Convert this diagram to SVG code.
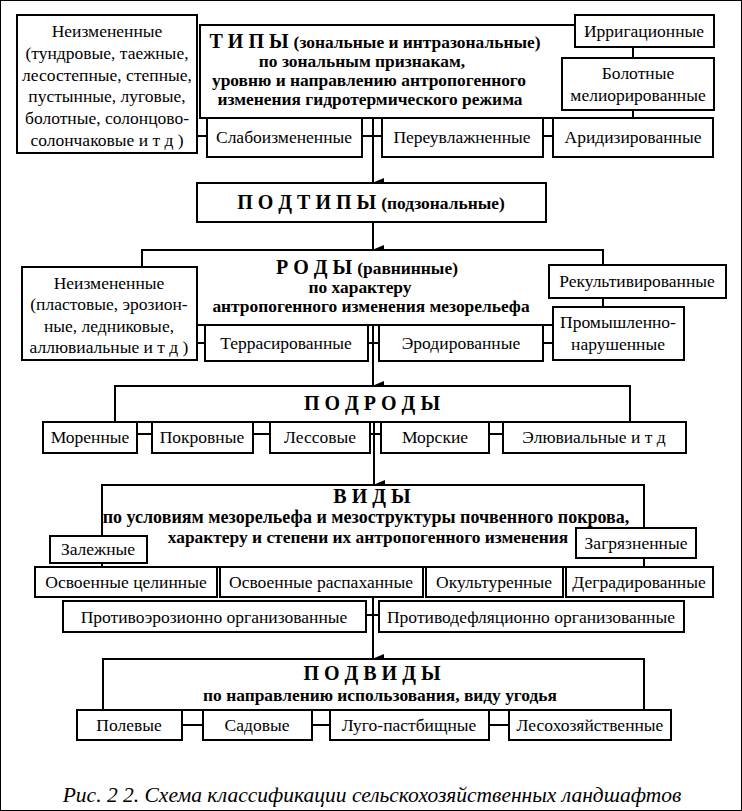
<svg xmlns="http://www.w3.org/2000/svg" width="742" height="811" viewBox="0 0 742 811">
<defs>
<marker id="arr" markerUnits="userSpaceOnUse" markerWidth="10" markerHeight="12" refX="5" refY="11" orient="auto-start-reverse" viewBox="0 0 10 12">
<path d="M0,0 L10,0 L5,12 Z" fill="#000"/>
</marker>
<style>
rect{fill:#fff;stroke:#000;stroke-width:2}
.frame{fill:#fff;stroke:#000;stroke-width:2}
text{font-family:"Liberation Serif","Times New Roman",serif;font-size:17.5px;text-anchor:middle;fill:#000}
.h{font-weight:bold;font-size:17.4px}
.hb{font-size:20px;font-weight:bold}
.cap{font-style:italic;font-size:21.5px}
.c line{stroke:#000;stroke-width:2}
.c .a{marker-end:url(#arr)}
</style>
</defs>
<rect width="742" height="811" fill="#fff" stroke="none"/>

<g id="types">
<rect class="frame" x="200" y="25" width="433" height="93"/>
<text x="375" y="48" class="h"><tspan class="hb">Т И П Ы </tspan>(зональные и интразональные)</text>
<text x="362" y="67" class="h">по зональным признакам,</text>
<text x="369" y="86" class="h">уровню и направлению антропогенного</text>
<text x="370" y="105" class="h">изменения гидротермического режима</text>
</g>
<g id="connectors" class="c">
<line x1="197" y1="136" x2="207" y2="136"/>
<line x1="362" y1="136" x2="382" y2="136"/>
<line x1="543" y1="136" x2="553" y2="136"/>
<line x1="197" y1="343" x2="205" y2="343"/>
<line x1="368" y1="343" x2="379" y2="343"/>
<line x1="543" y1="343" x2="553" y2="343"/>
<line x1="137" y1="434" x2="152" y2="434"/>
<line x1="253" y1="434" x2="270" y2="434"/>
<line x1="370" y1="434" x2="381" y2="434"/>
<line x1="489" y1="434" x2="503" y2="434"/>
<line x1="366" y1="615" x2="379" y2="615"/>
<line x1="182" y1="725" x2="203" y2="725"/>
<line x1="312" y1="725" x2="330" y2="725"/>
<line x1="489" y1="725" x2="509" y2="725"/>
<line class="a" x1="373" y1="118" x2="373" y2="183"/>
<line class="a" x1="373" y1="222" x2="373" y2="250"/>
<line class="a" x1="373" y1="325" x2="373" y2="386"/>
<line class="a" x1="374" y1="422" x2="374" y2="485"/>
<line class="a" x1="373" y1="567" x2="373" y2="659"/>
</g>
<g id="unchanged1">
<rect x="17" y="15" width="180" height="138"/>
<text x="107" y="37">Неизмененные</text>
<text x="107" y="59">(тундровые, таежные,</text>
<text x="107" y="81">лесостепные, степные,</text>
<text x="107" y="102">пустынные, луговые,</text>
<text x="107" y="124">болотные, солонцово-</text>
<text x="107" y="146">солончаковые и т д )</text>
</g>
<g id="irrig"><rect x="575" y="15" width="139" height="32"/><text x="644" y="37">Ирригационные</text></g>
<g id="bolot"><rect x="562" y="58" width="152" height="52"/><text x="638" y="79">Болотные</text><text x="638" y="101">мелиорированные</text></g>
<g id="slabo"><rect x="207" y="118" width="155" height="39"/><text x="284" y="143">Слабоизмененные</text></g>
<g id="pereuvl"><rect x="382" y="118" width="161" height="39"/><text x="462" y="143">Переувлажненные</text></g>
<g id="arid"><rect x="553" y="118" width="160" height="39"/><text x="633" y="143">Аридизированные</text></g>

<g id="subtypes"><rect x="197" y="183" width="349" height="39"/><text x="371" y="209" class="h"><tspan class="hb">П О Д Т И П Ы </tspan> (подзональные)</text></g>

<g id="rody">
<rect class="frame" x="142" y="250" width="461" height="75"/>
<text x="367" y="274" class="h"><tspan class="hb">Р О Д Ы </tspan>(равнинные)</text>
<text x="360" y="293" class="h">по характеру</text>
<text x="371" y="312" class="h">антропогенного изменения мезорельефа</text>
</g>
<g id="unchanged2">
<rect x="22" y="267" width="175" height="93"/>
<text x="109" y="289">Неизмененные</text>
<text x="109" y="310">(пластовые, эрозион-</text>
<text x="109" y="332">ные, ледниковые,</text>
<text x="109" y="353">аллювиальные и т д )</text>
</g>
<g id="rekult"><rect x="549" y="265" width="177" height="33"/><text x="637" y="287">Рекультивированные</text></g>
<g id="prom"><rect x="553" y="307" width="131" height="53"/><text x="618" y="328">Промышленно-</text><text x="618" y="350">нарушенные</text></g>
<g id="terras"><rect x="205" y="325" width="163" height="36"/><text x="286" y="349">Террасированные</text></g>
<g id="erod"><rect x="379" y="325" width="164" height="36"/><text x="461" y="349">Эродированные</text></g>

<g id="podrody">
<rect class="frame" x="115" y="386" width="515" height="36"/>
<text x="372" y="410" class="hb">П О Д Р О Д Ы</text>
</g>
<g id="moren"><rect x="43" y="422" width="94" height="31"/><text x="90" y="443">Моренные</text></g>
<g id="pokr"><rect x="152" y="422" width="101" height="31"/><text x="202" y="443">Покровные</text></g>
<g id="less"><rect x="270" y="422" width="100" height="31"/><text x="320" y="443">Лессовые</text></g>
<g id="morsk"><rect x="381" y="422" width="108" height="31"/><text x="435" y="443">Морские</text></g>
<g id="eluv"><rect x="503" y="422" width="183" height="31"/><text x="594" y="443">Элювиальные и т д</text></g>

<g id="vidy">
<rect class="frame" x="102" y="485" width="542" height="82"/>
<text x="372" y="503" class="hb">В И Д Ы</text>
<text x="366" y="523" class="h" style="font-size:18px">по условиям мезорельефа и мезоструктуры почвенного покрова,</text>
<text x="368" y="543" class="h">характеру и степени их антропогенного изменения</text>
</g>
<g id="zalezh"><rect x="50" y="536" width="97" height="27"/><text x="98" y="555">Залежные</text></g>
<g id="zagr"><rect x="576" y="528" width="120" height="30"/><text x="636" y="549">Загрязненные</text></g>
<g id="osv1"><rect x="35" y="567" width="182" height="30"/><text x="126" y="588">Освоенные целинные</text></g>
<g id="osv2"><rect x="220" y="567" width="203" height="30"/><text x="321" y="588">Освоенные распаханные</text></g>
<g id="okult"><rect x="426" y="567" width="137" height="30"/><text x="494" y="588">Окультуренные</text></g>
<g id="degr"><rect x="566" y="567" width="147" height="30"/><text x="639" y="588">Деградированные</text></g>
<g id="proteroz"><rect x="63" y="601" width="303" height="31"/><text x="214" y="623">Противоэрозионно организованные</text></g>
<g id="protdefl"><rect x="379" y="601" width="305" height="31"/><text x="531" y="623">Противодефляционно организованные</text></g>

<g id="podvidy">
<rect class="frame" x="103" y="659" width="541" height="51"/>
<text x="372" y="680" class="hb">П О Д В И Д Ы</text>
<text x="380" y="701" class="h">по направлению использования, виду угодья</text>
</g>
<g id="polev"><rect x="77" y="710" width="105" height="30"/><text x="129" y="731">Полевые</text></g>
<g id="sadov"><rect x="203" y="710" width="109" height="30"/><text x="257" y="731">Садовые</text></g>
<g id="lugo"><rect x="330" y="710" width="159" height="30"/><text x="409" y="731">Луго-пастбищные</text></g>
<g id="lesokh"><rect x="509" y="710" width="162" height="30"/><text x="590" y="731">Лесохозяйственные</text></g>

<text x="372" y="802" class="cap">Рис. 2 2. Схема классификации сельскохозяйственных ландшафтов</text>
</svg>
